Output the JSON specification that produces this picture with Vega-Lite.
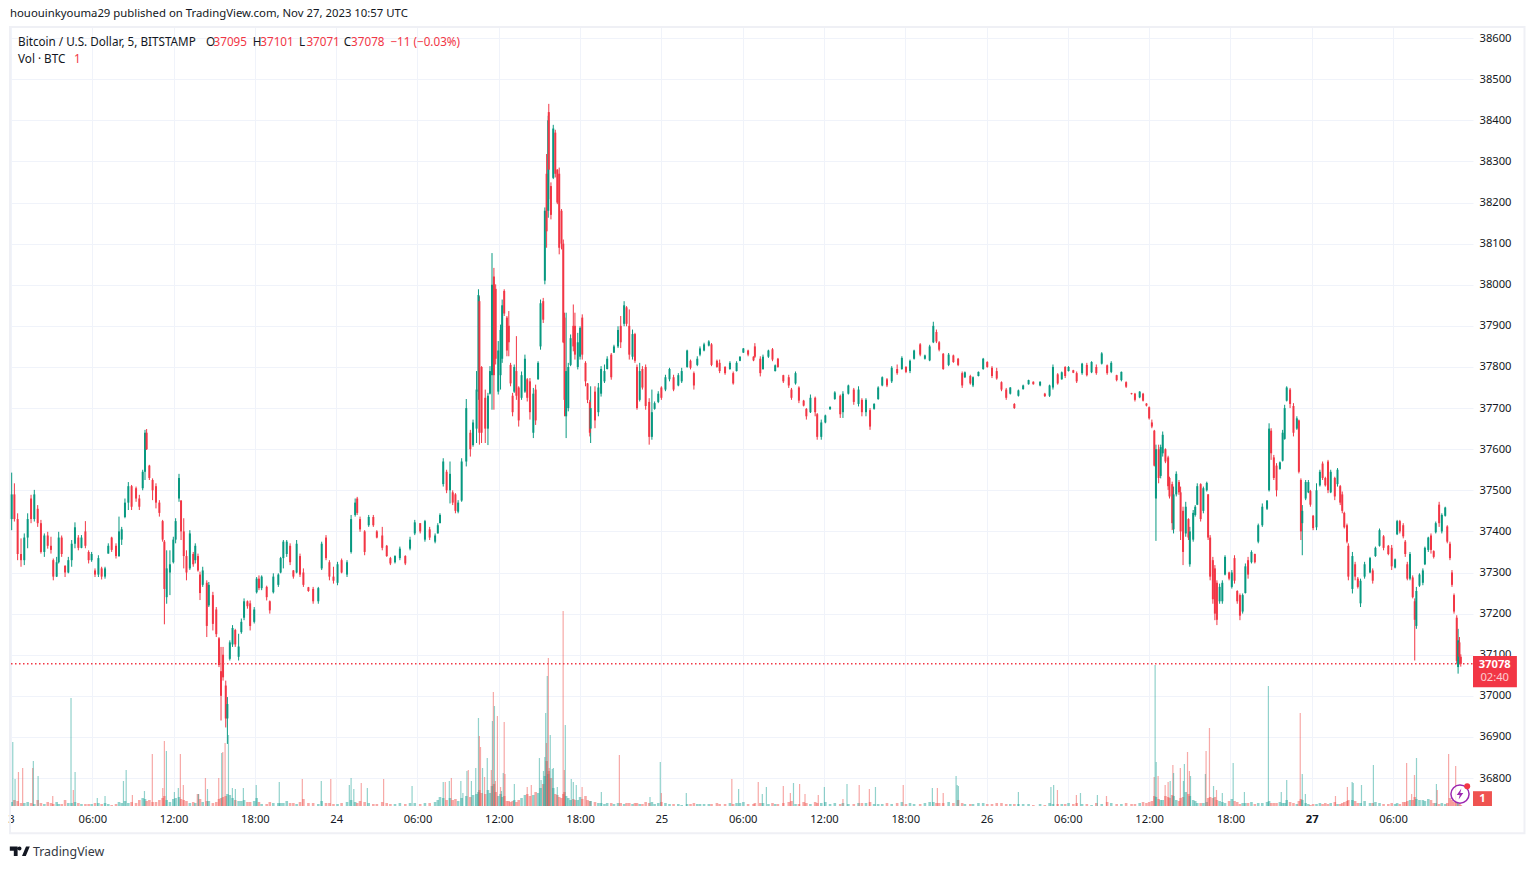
{
"$schema":"https://vega.github.io/schema/vega-lite/v6.json",
"width":1462,"height":779,
"autosize":{"type":"none"},
"padding":{"left":11,"top":27,"right":61,"bottom":63},
"background":"#ffffff",
"config":{"view":{"stroke":null},"font":"Noto Sans","text":{"font":"Noto Sans"}},
"title":{"text":"hououinkyouma29 published on TradingView.com, Nov 27, 2023 10:57 UTC","anchor":"start","frame":"group","offset":7,"dx":-1,"fontSize":11.35,"fontWeight":"normal","color":"#131722","font":"Noto Sans"},
"datasets":{
"candles":[
{"t":0.05,"o":37430,"h":37543,"l":37403,"c":37490,"v":4},
{"t":0.25,"o":37490,"h":37517,"l":37424,"c":37430,"v":6},
{"t":0.49,"o":37430,"h":37444,"l":37330,"c":37345,"v":5},
{"t":0.74,"o":37345,"h":37383,"l":37314,"c":37330,"v":3},
{"t":0.98,"o":37330,"h":37395,"l":37318,"c":37385,"v":3},
{"t":1.23,"o":37385,"h":37444,"l":37359,"c":37430,"v":4},
{"t":1.48,"o":37480,"h":37489,"l":37420,"c":37430,"v":3},
{"t":1.72,"o":37430,"h":37501,"l":37424,"c":37490,"v":2},
{"t":1.97,"o":37455,"h":37464,"l":37411,"c":37420,"v":6},
{"t":2.21,"o":37420,"h":37428,"l":37346,"c":37350,"v":3},
{"t":2.46,"o":37350,"h":37395,"l":37338,"c":37390,"v":2},
{"t":2.71,"o":37390,"h":37399,"l":37358,"c":37365,"v":4},
{"t":2.95,"o":37365,"h":37387,"l":37346,"c":37355,"v":3},
{"t":3.12,"o":37330,"h":37334,"l":37281,"c":37290,"v":2},
{"t":3.37,"o":37290,"h":37338,"l":37289,"c":37325,"v":4},
{"t":3.52,"o":37325,"h":37399,"l":37322,"c":37385,"v":2},
{"t":3.74,"o":37385,"h":37390,"l":37338,"c":37345,"v":2},
{"t":3.99,"o":37316,"h":37318,"l":37289,"c":37300,"v":6},
{"t":4.23,"o":37300,"h":37338,"l":37298,"c":37330,"v":3},
{"t":4.48,"o":37330,"h":37379,"l":37314,"c":37370,"v":3},
{"t":4.72,"o":37370,"h":37422,"l":37359,"c":37410,"v":4},
{"t":4.97,"o":37385,"h":37391,"l":37354,"c":37360,"v":3},
{"t":5.2,"o":37360,"h":37391,"l":37359,"c":37385,"v":2},
{"t":5.49,"o":37400,"h":37425,"l":37359,"c":37365,"v":2},
{"t":5.73,"o":37350,"h":37354,"l":37322,"c":37330,"v":2},
{"t":5.95,"o":37330,"h":37350,"l":37326,"c":37345,"v":2},
{"t":6.2,"o":37305,"h":37310,"l":37289,"c":37295,"v":3},
{"t":6.45,"o":37295,"h":37342,"l":37289,"c":37335,"v":3},
{"t":6.69,"o":37310,"h":37314,"l":37283,"c":37290,"v":2},
{"t":6.94,"o":37290,"h":37314,"l":37285,"c":37310,"v":3},
{"t":7.18,"o":37346,"h":37371,"l":37346,"c":37365,"v":2},
{"t":7.43,"o":37385,"h":37387,"l":37350,"c":37355,"v":1},
{"t":7.75,"o":37365,"h":37371,"l":37334,"c":37340,"v":2},
{"t":7.97,"o":37340,"h":37436,"l":37338,"c":37400,"v":4},
{"t":8.17,"o":37380,"h":37411,"l":37367,"c":37405,"v":3},
{"t":8.41,"o":37435,"h":37480,"l":37432,"c":37470,"v":5},
{"t":8.66,"o":37470,"h":37520,"l":37452,"c":37510,"v":3},
{"t":8.9,"o":37510,"h":37513,"l":37452,"c":37460,"v":4},
{"t":9.23,"o":37505,"h":37509,"l":37472,"c":37480,"v":3},
{"t":9.47,"o":37480,"h":37489,"l":37452,"c":37460,"v":6},
{"t":9.72,"o":37505,"h":37550,"l":37500,"c":37545,"v":8},
{"t":9.89,"o":37545,"h":37647,"l":37525,"c":37640,"v":7},
{"t":10.01,"o":37640,"h":37649,"l":37598,"c":37600,"v":5},
{"t":10.21,"o":37560,"h":37562,"l":37525,"c":37530,"v":6},
{"t":10.45,"o":37525,"h":37529,"l":37476,"c":37500,"v":4},
{"t":10.7,"o":37510,"h":37517,"l":37456,"c":37470,"v":4},
{"t":10.95,"o":37470,"h":37476,"l":37436,"c":37445,"v":6},
{"t":11.19,"o":37425,"h":37428,"l":37375,"c":37380,"v":8},
{"t":11.32,"o":37375,"h":37379,"l":37174,"c":37260,"v":10},
{"t":11.49,"o":37240,"h":37354,"l":37224,"c":37310,"v":6},
{"t":11.73,"o":37300,"h":37354,"l":37245,"c":37320,"v":4},
{"t":11.98,"o":37325,"h":37387,"l":37322,"c":37380,"v":7},
{"t":12.15,"o":37380,"h":37432,"l":37371,"c":37425,"v":8},
{"t":12.4,"o":37480,"h":37540,"l":37472,"c":37530,"v":9},
{"t":12.55,"o":37475,"h":37476,"l":37379,"c":37400,"v":7},
{"t":12.75,"o":37400,"h":37432,"l":37310,"c":37340,"v":6},
{"t":12.95,"o":37340,"h":37354,"l":37281,"c":37300,"v":5},
{"t":13.2,"o":37310,"h":37403,"l":37306,"c":37395,"v":3},
{"t":13.45,"o":37345,"h":37350,"l":37314,"c":37320,"v":4},
{"t":13.6,"o":37330,"h":37371,"l":37322,"c":37365,"v":3},
{"t":13.8,"o":37340,"h":37346,"l":37302,"c":37305,"v":12},
{"t":13.95,"o":37295,"h":37302,"l":37233,"c":37250,"v":7},
{"t":14.15,"o":37270,"h":37314,"l":37265,"c":37305,"v":4},
{"t":14.45,"o":37275,"h":37281,"l":37143,"c":37170,"v":5},
{"t":14.6,"o":37220,"h":37277,"l":37216,"c":37270,"v":5},
{"t":14.9,"o":37245,"h":37253,"l":37159,"c":37175,"v":3},
{"t":15.15,"o":37210,"h":37216,"l":37143,"c":37150,"v":4},
{"t":15.35,"o":37140,"h":37143,"l":37070,"c":37075,"v":7},
{"t":15.5,"o":37060,"h":37119,"l":36940,"c":37000,"v":8},
{"t":15.65,"o":37100,"h":37119,"l":37037,"c":37045,"v":9},
{"t":15.85,"o":37025,"h":37037,"l":36923,"c":36945,"v":10},
{"t":15.97,"o":36945,"h":36997,"l":36883,"c":36980,"v":12},
{"t":16.15,"o":37090,"h":37135,"l":37086,"c":37130,"v":11},
{"t":16.35,"o":37125,"h":37172,"l":37119,"c":37165,"v":8},
{"t":16.55,"o":37160,"h":37163,"l":37119,"c":37125,"v":6},
{"t":16.8,"o":37095,"h":37151,"l":37086,"c":37120,"v":5},
{"t":17.0,"o":37155,"h":37188,"l":37151,"c":37180,"v":5},
{"t":17.2,"o":37190,"h":37237,"l":37184,"c":37230,"v":6},
{"t":17.45,"o":37230,"h":37232,"l":37212,"c":37218,"v":4},
{"t":17.65,"o":37225,"h":37232,"l":37159,"c":37170,"v":4},
{"t":17.95,"o":37180,"h":37216,"l":37176,"c":37210,"v":5},
{"t":18.13,"o":37252,"h":37289,"l":37249,"c":37285,"v":8},
{"t":18.3,"o":37285,"h":37293,"l":37257,"c":37262,"v":4},
{"t":18.5,"o":37262,"h":37293,"l":37257,"c":37290,"v":2},
{"t":18.87,"o":37265,"h":37268,"l":37232,"c":37240,"v":2},
{"t":19.1,"o":37230,"h":37232,"l":37200,"c":37208,"v":4},
{"t":19.36,"o":37252,"h":37298,"l":37249,"c":37290,"v":3},
{"t":19.73,"o":37270,"h":37298,"l":37265,"c":37295,"v":3},
{"t":19.9,"o":37300,"h":37338,"l":37298,"c":37335,"v":3},
{"t":20.1,"o":37335,"h":37379,"l":37310,"c":37375,"v":3},
{"t":20.35,"o":37345,"h":37379,"l":37338,"c":37375,"v":5},
{"t":20.6,"o":37365,"h":37371,"l":37318,"c":37325,"v":3},
{"t":20.84,"o":37305,"h":37306,"l":37285,"c":37290,"v":3},
{"t":21.08,"o":37300,"h":37379,"l":37298,"c":37370,"v":2},
{"t":21.33,"o":37340,"h":37346,"l":37289,"c":37295,"v":4},
{"t":21.58,"o":37300,"h":37310,"l":37265,"c":37270,"v":7},
{"t":21.95,"o":37264,"h":37265,"l":37253,"c":37255,"v":3},
{"t":22.3,"o":37260,"h":37265,"l":37224,"c":37230,"v":3},
{"t":22.68,"o":37230,"h":37265,"l":37224,"c":37262,"v":2},
{"t":22.93,"o":37310,"h":37375,"l":37306,"c":37370,"v":5},
{"t":23.25,"o":37385,"h":37391,"l":37330,"c":37335,"v":3},
{"t":23.5,"o":37325,"h":37330,"l":37281,"c":37290,"v":3},
{"t":23.8,"o":37290,"h":37314,"l":37273,"c":37280,"v":2},
{"t":24.1,"o":37275,"h":37326,"l":37269,"c":37320,"v":2},
{"t":24.4,"o":37330,"h":37334,"l":37298,"c":37300,"v":3},
{"t":24.8,"o":37295,"h":37330,"l":37289,"c":37325,"v":4},
{"t":25.1,"o":37350,"h":37440,"l":37346,"c":37430,"v":6},
{"t":25.4,"o":37440,"h":37480,"l":37436,"c":37470,"v":4},
{"t":25.55,"o":37480,"h":37484,"l":37440,"c":37445,"v":3},
{"t":25.76,"o":37430,"h":37436,"l":37399,"c":37405,"v":5},
{"t":26.1,"o":37400,"h":37403,"l":37342,"c":37350,"v":4},
{"t":26.4,"o":37415,"h":37440,"l":37411,"c":37435,"v":3},
{"t":26.74,"o":37435,"h":37440,"l":37411,"c":37415,"v":2},
{"t":27.0,"o":37400,"h":37403,"l":37383,"c":37385,"v":2},
{"t":27.4,"o":37390,"h":37411,"l":37354,"c":37360,"v":4},
{"t":27.73,"o":37365,"h":37367,"l":37338,"c":37340,"v":3},
{"t":28.0,"o":37335,"h":37338,"l":37318,"c":37322,"v":2},
{"t":28.34,"o":37325,"h":37342,"l":37322,"c":37340,"v":2},
{"t":28.7,"o":37335,"h":37363,"l":37330,"c":37358,"v":3},
{"t":29.1,"o":37340,"h":37342,"l":37318,"c":37322,"v":2},
{"t":29.45,"o":37358,"h":37387,"l":37354,"c":37380,"v":3},
{"t":29.8,"o":37395,"h":37428,"l":37391,"c":37422,"v":3},
{"t":30.2,"o":37420,"h":37420,"l":37395,"c":37400,"v":2},
{"t":30.55,"o":37380,"h":37428,"l":37375,"c":37425,"v":3},
{"t":30.9,"o":37405,"h":37411,"l":37379,"c":37385,"v":3},
{"t":31.3,"o":37375,"h":37395,"l":37371,"c":37390,"v":4},
{"t":31.5,"o":37395,"h":37420,"l":37395,"c":37415,"v":6},
{"t":31.66,"o":37420,"h":37444,"l":37420,"c":37440,"v":9},
{"t":31.9,"o":37515,"h":37578,"l":37509,"c":37570,"v":8},
{"t":32.15,"o":37545,"h":37550,"l":37493,"c":37500,"v":6},
{"t":32.4,"o":37500,"h":37570,"l":37468,"c":37540,"v":8},
{"t":32.6,"o":37495,"h":37500,"l":37464,"c":37470,"v":6},
{"t":32.8,"o":37490,"h":37493,"l":37444,"c":37450,"v":7},
{"t":33.0,"o":37448,"h":37476,"l":37444,"c":37470,"v":5},
{"t":33.26,"o":37475,"h":37578,"l":37472,"c":37570,"v":8},
{"t":33.6,"o":37570,"h":37722,"l":37558,"c":37700,"v":10},
{"t":33.9,"o":37640,"h":37647,"l":37582,"c":37600,"v":9},
{"t":34.1,"o":37610,"h":37672,"l":37606,"c":37665,"v":11},
{"t":34.36,"o":37650,"h":37790,"l":37615,"c":37745,"v":12},
{"t":34.5,"o":37740,"h":37989,"l":37720,"c":37975,"v":14},
{"t":34.57,"o":37960,"h":37972,"l":37611,"c":37640,"v":16},
{"t":34.73,"o":37800,"h":37802,"l":37615,"c":37640,"v":13},
{"t":35.0,"o":37725,"h":37745,"l":37615,"c":37650,"v":12},
{"t":35.2,"o":37650,"h":37737,"l":37610,"c":37730,"v":16},
{"t":35.35,"o":37735,"h":37802,"l":37733,"c":37790,"v":13},
{"t":35.5,"o":37780,"h":38077,"l":37696,"c":38000,"v":20},
{"t":35.64,"o":38020,"h":38041,"l":37696,"c":37780,"v":22},
{"t":35.77,"o":37990,"h":38001,"l":37806,"c":37820,"v":14},
{"t":35.96,"o":37740,"h":37863,"l":37733,"c":37840,"v":10},
{"t":36.13,"o":37780,"h":37903,"l":37745,"c":37890,"v":12},
{"t":36.25,"o":37820,"h":37964,"l":37810,"c":37950,"v":9},
{"t":36.4,"o":37985,"h":37989,"l":37924,"c":37930,"v":10},
{"t":36.6,"o":37920,"h":37924,"l":37826,"c":37840,"v":5},
{"t":36.74,"o":37900,"h":37936,"l":37826,"c":37860,"v":5},
{"t":36.87,"o":37805,"h":37810,"l":37753,"c":37760,"v":4},
{"t":37.02,"o":37730,"h":37737,"l":37680,"c":37690,"v":5},
{"t":37.14,"o":37740,"h":37806,"l":37737,"c":37800,"v":6},
{"t":37.3,"o":37790,"h":37875,"l":37720,"c":37730,"v":4},
{"t":37.47,"o":37750,"h":37753,"l":37655,"c":37670,"v":6},
{"t":37.68,"o":37725,"h":37789,"l":37720,"c":37780,"v":8},
{"t":37.93,"o":37740,"h":37830,"l":37737,"c":37820,"v":11},
{"t":38.1,"o":37770,"h":37773,"l":37716,"c":37725,"v":12},
{"t":38.3,"o":37765,"h":37773,"l":37672,"c":37690,"v":10},
{"t":38.55,"o":37640,"h":37749,"l":37627,"c":37735,"v":11},
{"t":38.72,"o":37745,"h":37757,"l":37659,"c":37670,"v":14},
{"t":38.9,"o":37770,"h":37814,"l":37769,"c":37810,"v":13},
{"t":39.08,"o":37850,"h":37964,"l":37842,"c":37955,"v":18},
{"t":39.28,"o":37960,"h":37968,"l":37907,"c":37915,"v":22},
{"t":39.4,"o":38010,"h":38188,"l":38001,"c":38180,"v":30},
{"t":39.53,"o":38270,"h":38318,"l":38090,"c":38130,"v":45},
{"t":39.65,"o":38180,"h":38411,"l":38163,"c":38400,"v":32},
{"t":39.69,"o":38420,"h":38440,"l":38208,"c":38280,"v":35},
{"t":39.85,"o":38240,"h":38249,"l":38159,"c":38170,"v":28},
{"t":40.02,"o":38260,"h":38389,"l":38257,"c":38380,"v":18},
{"t":40.17,"o":38370,"h":38377,"l":38261,"c":38270,"v":12},
{"t":40.32,"o":38280,"h":38281,"l":38196,"c":38200,"v":11},
{"t":40.46,"o":38270,"h":38285,"l":38074,"c":38090,"v":9},
{"t":40.63,"o":38180,"h":38184,"l":38086,"c":38100,"v":8},
{"t":40.76,"o":38100,"h":38110,"l":37858,"c":37860,"v":12},
{"t":40.85,"o":37920,"h":37932,"l":37680,"c":37720,"v":14},
{"t":40.97,"o":37680,"h":37932,"l":37627,"c":37790,"v":10},
{"t":41.13,"o":37700,"h":37810,"l":37692,"c":37800,"v":8},
{"t":41.3,"o":37805,"h":37879,"l":37802,"c":37870,"v":6},
{"t":41.5,"o":37900,"h":37952,"l":37838,"c":37850,"v":7},
{"t":41.62,"o":37900,"h":37932,"l":37818,"c":37830,"v":6},
{"t":41.83,"o":37800,"h":37883,"l":37794,"c":37860,"v":6},
{"t":42.0,"o":37825,"h":37899,"l":37818,"c":37895,"v":9},
{"t":42.16,"o":37920,"h":37928,"l":37818,"c":37830,"v":7},
{"t":42.4,"o":37810,"h":37814,"l":37753,"c":37765,"v":10},
{"t":42.55,"o":37760,"h":37761,"l":37712,"c":37720,"v":6},
{"t":42.72,"o":37715,"h":37720,"l":37631,"c":37640,"v":5},
{"t":42.78,"o":37650,"h":37753,"l":37615,"c":37700,"v":5},
{"t":43.1,"o":37740,"h":37753,"l":37651,"c":37670,"v":4},
{"t":43.35,"o":37690,"h":37761,"l":37680,"c":37750,"v":3},
{"t":43.55,"o":37735,"h":37802,"l":37728,"c":37795,"v":3},
{"t":43.8,"o":37765,"h":37806,"l":37761,"c":37790,"v":2},
{"t":44.0,"o":37795,"h":37826,"l":37794,"c":37820,"v":3},
{"t":44.3,"o":37830,"h":37834,"l":37769,"c":37775,"v":3},
{"t":44.5,"o":37835,"h":37854,"l":37834,"c":37850,"v":2},
{"t":44.8,"o":37850,"h":37899,"l":37846,"c":37890,"v":3},
{"t":45.0,"o":37900,"h":37924,"l":37846,"c":37860,"v":3},
{"t":45.25,"o":37905,"h":37960,"l":37899,"c":37950,"v":2},
{"t":45.43,"o":37945,"h":37948,"l":37899,"c":37905,"v":3},
{"t":45.63,"o":37900,"h":37940,"l":37818,"c":37830,"v":3},
{"t":45.87,"o":37825,"h":37891,"l":37818,"c":37880,"v":2},
{"t":46.05,"o":37880,"h":37883,"l":37810,"c":37815,"v":3},
{"t":46.2,"o":37800,"h":37806,"l":37696,"c":37700,"v":3},
{"t":46.4,"o":37720,"h":37810,"l":37716,"c":37790,"v":2},
{"t":46.6,"o":37795,"h":37802,"l":37745,"c":37750,"v":2},
{"t":46.84,"o":37800,"h":37806,"l":37696,"c":37705,"v":4},
{"t":47.1,"o":37715,"h":37724,"l":37611,"c":37630,"v":3},
{"t":47.3,"o":37630,"h":37745,"l":37623,"c":37690,"v":4},
{"t":47.5,"o":37698,"h":37716,"l":37696,"c":37712,"v":2},
{"t":47.77,"o":37715,"h":37741,"l":37712,"c":37735,"v":3},
{"t":48.0,"o":37750,"h":37753,"l":37720,"c":37725,"v":4},
{"t":48.3,"o":37745,"h":37781,"l":37741,"c":37775,"v":3},
{"t":48.6,"o":37770,"h":37798,"l":37765,"c":37795,"v":2},
{"t":48.9,"o":37775,"h":37781,"l":37741,"c":37745,"v":2},
{"t":49.25,"o":37755,"h":37785,"l":37753,"c":37780,"v":2},
{"t":49.5,"o":37765,"h":37798,"l":37761,"c":37790,"v":1},
{"t":49.9,"o":37800,"h":37842,"l":37798,"c":37840,"v":2},
{"t":50.15,"o":37815,"h":37818,"l":37794,"c":37798,"v":2},
{"t":50.4,"o":37785,"h":37789,"l":37745,"c":37755,"v":3},
{"t":50.65,"o":37805,"h":37826,"l":37802,"c":37820,"v":2},
{"t":50.85,"o":37830,"h":37850,"l":37826,"c":37845,"v":2},
{"t":51.15,"o":37840,"h":37859,"l":37838,"c":37855,"v":2},
{"t":51.5,"o":37852,"h":37865,"l":37850,"c":37862,"v":2},
{"t":51.7,"o":37855,"h":37858,"l":37802,"c":37805,"v":2},
{"t":52.1,"o":37815,"h":37818,"l":37798,"c":37800,"v":3},
{"t":52.3,"o":37810,"h":37818,"l":37785,"c":37790,"v":2},
{"t":52.7,"o":37800,"h":37802,"l":37781,"c":37785,"v":2},
{"t":53.06,"o":37795,"h":37814,"l":37793,"c":37810,"v":3},
{"t":53.3,"o":37785,"h":37789,"l":37757,"c":37760,"v":2},
{"t":53.55,"o":37790,"h":37814,"l":37789,"c":37810,"v":3},
{"t":53.8,"o":37815,"h":37826,"l":37814,"c":37825,"v":3},
{"t":54.05,"o":37835,"h":37846,"l":37834,"c":37845,"v":4},
{"t":54.4,"o":37840,"h":37842,"l":37826,"c":37830,"v":2},
{"t":54.8,"o":37825,"h":37826,"l":37814,"c":37816,"v":2},
{"t":54.9,"o":37850,"h":37858,"l":37822,"c":37825,"v":3},
{"t":55.3,"o":37820,"h":37826,"l":37777,"c":37785,"v":3},
{"t":55.5,"o":37795,"h":37830,"l":37793,"c":37825,"v":3},
{"t":55.9,"o":37825,"h":37842,"l":37822,"c":37840,"v":2},
{"t":56.2,"o":37843,"h":37846,"l":37814,"c":37818,"v":3},
{"t":56.4,"o":37790,"h":37806,"l":37789,"c":37804,"v":2},
{"t":56.6,"o":37820,"h":37822,"l":37798,"c":37800,"v":2},
{"t":57.0,"o":37780,"h":37781,"l":37761,"c":37765,"v":3},
{"t":57.4,"o":37775,"h":37781,"l":37749,"c":37755,"v":4},
{"t":57.6,"o":37745,"h":37749,"l":37720,"c":37725,"v":5},
{"t":57.9,"o":37760,"h":37789,"l":37757,"c":37785,"v":2},
{"t":58.15,"o":37750,"h":37753,"l":37712,"c":37718,"v":2},
{"t":58.5,"o":37718,"h":37720,"l":37704,"c":37706,"v":4},
{"t":58.7,"o":37698,"h":37700,"l":37672,"c":37680,"v":3},
{"t":59.0,"o":37690,"h":37733,"l":37688,"c":37725,"v":2},
{"t":59.35,"o":37725,"h":37728,"l":37680,"c":37690,"v":4},
{"t":59.5,"o":37685,"h":37688,"l":37623,"c":37630,"v":3},
{"t":59.8,"o":37630,"h":37672,"l":37623,"c":37665,"v":3},
{"t":60.1,"o":37665,"h":37684,"l":37663,"c":37682,"v":4},
{"t":60.45,"o":37697,"h":37704,"l":37696,"c":37703,"v":2},
{"t":60.8,"o":37722,"h":37741,"l":37720,"c":37738,"v":3},
{"t":61.2,"o":37730,"h":37733,"l":37676,"c":37685,"v":2},
{"t":61.4,"o":37690,"h":37741,"l":37676,"c":37735,"v":3},
{"t":61.8,"o":37735,"h":37757,"l":37733,"c":37755,"v":2},
{"t":62.2,"o":37745,"h":37749,"l":37708,"c":37715,"v":2},
{"t":62.55,"o":37710,"h":37753,"l":37704,"c":37745,"v":3},
{"t":62.8,"o":37720,"h":37724,"l":37680,"c":37690,"v":3},
{"t":63.1,"o":37690,"h":37724,"l":37680,"c":37720,"v":3},
{"t":63.4,"o":37695,"h":37700,"l":37647,"c":37655,"v":4},
{"t":63.7,"o":37698,"h":37712,"l":37696,"c":37710,"v":2},
{"t":64.0,"o":37722,"h":37753,"l":37720,"c":37750,"v":2},
{"t":64.3,"o":37755,"h":37777,"l":37753,"c":37775,"v":2},
{"t":64.65,"o":37770,"h":37773,"l":37751,"c":37755,"v":3},
{"t":65.0,"o":37765,"h":37802,"l":37761,"c":37798,"v":2},
{"t":65.4,"o":37795,"h":37806,"l":37781,"c":37785,"v":3},
{"t":65.75,"o":37795,"h":37826,"l":37793,"c":37822,"v":4},
{"t":66.05,"o":37800,"h":37802,"l":37785,"c":37788,"v":2},
{"t":66.35,"o":37790,"h":37818,"l":37785,"c":37815,"v":3},
{"t":66.65,"o":37820,"h":37842,"l":37818,"c":37840,"v":2},
{"t":67.1,"o":37855,"h":37858,"l":37826,"c":37830,"v":2},
{"t":67.45,"o":37820,"h":37830,"l":37818,"c":37828,"v":3},
{"t":67.8,"o":37816,"h":37854,"l":37814,"c":37850,"v":4},
{"t":68.07,"o":37860,"h":37910,"l":37858,"c":37900,"v":4},
{"t":68.3,"o":37885,"h":37891,"l":37858,"c":37862,"v":3},
{"t":68.5,"o":37860,"h":37863,"l":37838,"c":37842,"v":3},
{"t":68.8,"o":37832,"h":37834,"l":37793,"c":37795,"v":3},
{"t":69.2,"o":37805,"h":37834,"l":37802,"c":37830,"v":4},
{"t":69.55,"o":37828,"h":37830,"l":37810,"c":37812,"v":3},
{"t":69.9,"o":37820,"h":37822,"l":37802,"c":37805,"v":6},
{"t":70.2,"o":37785,"h":37789,"l":37749,"c":37755,"v":3},
{"t":70.4,"o":37775,"h":37789,"l":37773,"c":37787,"v":2},
{"t":70.8,"o":37778,"h":37781,"l":37757,"c":37760,"v":2},
{"t":71.0,"o":37755,"h":37777,"l":37751,"c":37775,"v":2},
{"t":71.4,"o":37778,"h":37789,"l":37777,"c":37788,"v":3},
{"t":71.75,"o":37795,"h":37822,"l":37793,"c":37820,"v":3},
{"t":72.05,"o":37812,"h":37814,"l":37798,"c":37800,"v":2},
{"t":72.4,"o":37798,"h":37802,"l":37773,"c":37778,"v":2},
{"t":72.75,"o":37790,"h":37798,"l":37769,"c":37772,"v":3},
{"t":73.1,"o":37763,"h":37765,"l":37741,"c":37745,"v":3},
{"t":73.45,"o":37745,"h":37749,"l":37720,"c":37725,"v":2},
{"t":73.75,"o":37735,"h":37751,"l":37733,"c":37750,"v":2},
{"t":74.05,"o":37710,"h":37712,"l":37698,"c":37700,"v":2},
{"t":74.35,"o":37730,"h":37745,"l":37728,"c":37743,"v":2},
{"t":74.7,"o":37746,"h":37757,"l":37745,"c":37755,"v":2},
{"t":75.1,"o":37758,"h":37769,"l":37757,"c":37768,"v":2},
{"t":75.45,"o":37764,"h":37765,"l":37757,"c":37758,"v":1},
{"t":75.95,"o":37755,"h":37765,"l":37753,"c":37764,"v":2},
{"t":76.3,"o":37735,"h":37737,"l":37727,"c":37729,"v":1},
{"t":76.65,"o":37730,"h":37757,"l":37727,"c":37755,"v":3},
{"t":76.9,"o":37750,"h":37806,"l":37745,"c":37800,"v":2},
{"t":77.25,"o":37782,"h":37785,"l":37757,"c":37760,"v":2},
{"t":77.55,"o":37770,"h":37789,"l":37769,"c":37787,"v":2},
{"t":77.8,"o":37800,"h":37802,"l":37773,"c":37778,"v":2},
{"t":78.05,"o":37790,"h":37802,"l":37789,"c":37800,"v":3},
{"t":78.4,"o":37792,"h":37793,"l":37785,"c":37786,"v":2},
{"t":78.65,"o":37785,"h":37789,"l":37761,"c":37765,"v":3},
{"t":79.05,"o":37785,"h":37810,"l":37781,"c":37808,"v":2},
{"t":79.4,"o":37805,"h":37810,"l":37777,"c":37780,"v":2},
{"t":79.75,"o":37787,"h":37814,"l":37785,"c":37812,"v":1},
{"t":80.1,"o":37800,"h":37806,"l":37781,"c":37785,"v":3},
{"t":80.5,"o":37808,"h":37836,"l":37806,"c":37833,"v":2},
{"t":80.9,"o":37804,"h":37806,"l":37781,"c":37785,"v":4},
{"t":81.2,"o":37788,"h":37814,"l":37785,"c":37810,"v":3},
{"t":81.6,"o":37780,"h":37781,"l":37765,"c":37768,"v":2},
{"t":81.95,"o":37768,"h":37789,"l":37765,"c":37788,"v":2},
{"t":82.3,"o":37763,"h":37765,"l":37749,"c":37752,"v":3},
{"t":82.7,"o":37736,"h":37737,"l":37733,"c":37734,"v":2},
{"t":82.95,"o":37735,"h":37737,"l":37716,"c":37720,"v":2},
{"t":83.3,"o":37726,"h":37741,"l":37724,"c":37740,"v":3},
{"t":83.55,"o":37735,"h":37737,"l":37716,"c":37718,"v":4},
{"t":83.8,"o":37711,"h":37712,"l":37704,"c":37706,"v":3},
{"t":84.0,"o":37702,"h":37704,"l":37672,"c":37675,"v":4},
{"t":84.2,"o":37665,"h":37672,"l":37651,"c":37655,"v":5},
{"t":84.38,"o":37645,"h":37647,"l":37558,"c":37560,"v":10},
{"t":84.5,"o":37480,"h":37611,"l":37377,"c":37600,"v":9},
{"t":84.7,"o":37600,"h":37611,"l":37517,"c":37530,"v":7},
{"t":84.85,"o":37535,"h":37611,"l":37529,"c":37605,"v":6},
{"t":85.0,"o":37590,"h":37643,"l":37582,"c":37635,"v":6},
{"t":85.2,"o":37600,"h":37602,"l":37566,"c":37570,"v":10},
{"t":85.4,"o":37580,"h":37584,"l":37501,"c":37510,"v":9},
{"t":85.5,"o":37530,"h":37533,"l":37480,"c":37485,"v":8},
{"t":85.7,"o":37515,"h":37521,"l":37403,"c":37420,"v":11},
{"t":85.8,"o":37405,"h":37509,"l":37395,"c":37490,"v":10},
{"t":86.0,"o":37490,"h":37546,"l":37485,"c":37540,"v":6},
{"t":86.2,"o":37520,"h":37525,"l":37489,"c":37495,"v":5},
{"t":86.32,"o":37495,"h":37509,"l":37379,"c":37400,"v":8},
{"t":86.5,"o":37450,"h":37460,"l":37318,"c":37350,"v":9},
{"t":86.7,"o":37395,"h":37472,"l":37387,"c":37460,"v":14},
{"t":86.9,"o":37430,"h":37432,"l":37379,"c":37385,"v":12},
{"t":87.0,"o":37320,"h":37411,"l":37314,"c":37400,"v":10},
{"t":87.25,"o":37380,"h":37452,"l":37375,"c":37445,"v":6},
{"t":87.4,"o":37440,"h":37464,"l":37436,"c":37460,"v":5},
{"t":87.55,"o":37465,"h":37517,"l":37464,"c":37510,"v":3},
{"t":87.8,"o":37515,"h":37517,"l":37424,"c":37430,"v":3},
{"t":88.0,"o":37450,"h":37509,"l":37444,"c":37505,"v":3},
{"t":88.25,"o":37500,"h":37521,"l":37497,"c":37518,"v":4},
{"t":88.35,"o":37490,"h":37491,"l":37379,"c":37385,"v":8},
{"t":88.5,"o":37385,"h":37391,"l":37281,"c":37290,"v":9},
{"t":88.7,"o":37330,"h":37338,"l":37224,"c":37235,"v":8},
{"t":88.85,"o":37310,"h":37318,"l":37184,"c":37200,"v":9},
{"t":89.0,"o":37275,"h":37281,"l":37172,"c":37185,"v":6},
{"t":89.2,"o":37230,"h":37273,"l":37224,"c":37265,"v":5},
{"t":89.4,"o":37230,"h":37281,"l":37224,"c":37275,"v":4},
{"t":89.6,"o":37295,"h":37342,"l":37293,"c":37338,"v":3},
{"t":89.9,"o":37300,"h":37302,"l":37281,"c":37285,"v":5},
{"t":90.1,"o":37265,"h":37306,"l":37261,"c":37300,"v":7},
{"t":90.3,"o":37335,"h":37342,"l":37273,"c":37280,"v":5},
{"t":90.5,"o":37255,"h":37257,"l":37224,"c":37230,"v":4},
{"t":90.7,"o":37245,"h":37249,"l":37184,"c":37195,"v":2},
{"t":90.9,"o":37205,"h":37249,"l":37200,"c":37245,"v":3},
{"t":91.1,"o":37250,"h":37322,"l":37249,"c":37315,"v":3},
{"t":91.3,"o":37330,"h":37338,"l":37285,"c":37295,"v":3},
{"t":91.55,"o":37325,"h":37354,"l":37322,"c":37350,"v":4},
{"t":91.8,"o":37345,"h":37346,"l":37322,"c":37325,"v":2},
{"t":92.05,"o":37375,"h":37419,"l":37371,"c":37415,"v":3},
{"t":92.35,"o":37415,"h":37468,"l":37411,"c":37460,"v":3},
{"t":92.7,"o":37455,"h":37476,"l":37452,"c":37475,"v":4},
{"t":92.85,"o":37500,"h":37663,"l":37497,"c":37650,"v":5},
{"t":93.0,"o":37645,"h":37651,"l":37574,"c":37590,"v":3},
{"t":93.2,"o":37580,"h":37586,"l":37525,"c":37530,"v":3},
{"t":93.4,"o":37560,"h":37566,"l":37485,"c":37500,"v":3},
{"t":93.65,"o":37552,"h":37570,"l":37550,"c":37568,"v":4},
{"t":93.85,"o":37572,"h":37647,"l":37570,"c":37640,"v":3},
{"t":94.0,"o":37625,"h":37708,"l":37623,"c":37700,"v":3},
{"t":94.15,"o":37718,"h":37753,"l":37716,"c":37750,"v":6},
{"t":94.4,"o":37745,"h":37749,"l":37700,"c":37710,"v":4},
{"t":94.65,"o":37705,"h":37712,"l":37631,"c":37640,"v":3},
{"t":94.9,"o":37650,"h":37680,"l":37647,"c":37675,"v":2},
{"t":95.05,"o":37670,"h":37672,"l":37541,"c":37545,"v":5},
{"t":95.2,"o":37525,"h":37529,"l":37379,"c":37400,"v":7},
{"t":95.3,"o":37420,"h":37464,"l":37342,"c":37450,"v":6},
{"t":95.55,"o":37480,"h":37525,"l":37476,"c":37520,"v":3},
{"t":95.75,"o":37495,"h":37525,"l":37493,"c":37520,"v":2},
{"t":95.9,"o":37498,"h":37501,"l":37460,"c":37465,"v":1},
{"t":96.1,"o":37438,"h":37440,"l":37403,"c":37408,"v":2},
{"t":96.35,"o":37410,"h":37517,"l":37403,"c":37500,"v":2},
{"t":96.6,"o":37512,"h":37550,"l":37509,"c":37545,"v":3},
{"t":96.8,"o":37565,"h":37570,"l":37525,"c":37530,"v":2},
{"t":97.0,"o":37530,"h":37533,"l":37509,"c":37512,"v":3},
{"t":97.2,"o":37570,"h":37574,"l":37493,"c":37500,"v":2},
{"t":97.4,"o":37495,"h":37550,"l":37493,"c":37545,"v":3},
{"t":97.7,"o":37530,"h":37533,"l":37476,"c":37485,"v":4},
{"t":97.9,"o":37515,"h":37554,"l":37509,"c":37550,"v":2},
{"t":98.1,"o":37510,"h":37513,"l":37464,"c":37470,"v":2},
{"t":98.25,"o":37490,"h":37497,"l":37444,"c":37450,"v":3},
{"t":98.4,"o":37445,"h":37448,"l":37407,"c":37410,"v":4},
{"t":98.6,"o":37415,"h":37419,"l":37371,"c":37375,"v":5},
{"t":98.7,"o":37365,"h":37371,"l":37281,"c":37290,"v":6},
{"t":99.0,"o":37260,"h":37350,"l":37249,"c":37340,"v":6},
{"t":99.2,"o":37320,"h":37326,"l":37281,"c":37290,"v":5},
{"t":99.4,"o":37285,"h":37289,"l":37261,"c":37265,"v":3},
{"t":99.6,"o":37225,"h":37285,"l":37216,"c":37280,"v":3},
{"t":99.9,"o":37290,"h":37326,"l":37285,"c":37320,"v":5},
{"t":100.3,"o":37300,"h":37338,"l":37298,"c":37335,"v":3},
{"t":100.5,"o":37305,"h":37310,"l":37273,"c":37280,"v":3},
{"t":100.7,"o":37340,"h":37363,"l":37338,"c":37360,"v":4},
{"t":101.0,"o":37365,"h":37407,"l":37363,"c":37403,"v":3},
{"t":101.3,"o":37388,"h":37391,"l":37354,"c":37360,"v":2},
{"t":101.65,"o":37365,"h":37367,"l":37342,"c":37345,"v":2},
{"t":101.9,"o":37360,"h":37367,"l":37306,"c":37315,"v":3},
{"t":102.15,"o":37312,"h":37334,"l":37310,"c":37332,"v":2},
{"t":102.3,"o":37393,"h":37428,"l":37391,"c":37425,"v":3},
{"t":102.5,"o":37425,"h":37428,"l":37395,"c":37400,"v":2},
{"t":102.75,"o":37415,"h":37420,"l":37383,"c":37388,"v":4},
{"t":102.9,"o":37375,"h":37379,"l":37338,"c":37345,"v":4},
{"t":103.05,"o":37320,"h":37326,"l":37281,"c":37285,"v":5},
{"t":103.25,"o":37285,"h":37350,"l":37281,"c":37345,"v":6},
{"t":103.45,"o":37288,"h":37293,"l":37237,"c":37240,"v":6},
{"t":103.6,"o":37230,"h":37237,"l":37086,"c":37185,"v":9},
{"t":103.72,"o":37170,"h":37265,"l":37163,"c":37255,"v":7},
{"t":103.95,"o":37268,"h":37298,"l":37265,"c":37295,"v":6},
{"t":104.2,"o":37275,"h":37310,"l":37269,"c":37305,"v":6},
{"t":104.35,"o":37320,"h":37363,"l":37318,"c":37360,"v":5},
{"t":104.6,"o":37355,"h":37387,"l":37350,"c":37385,"v":7},
{"t":104.8,"o":37390,"h":37395,"l":37346,"c":37355,"v":6},
{"t":105.0,"o":37352,"h":37354,"l":37334,"c":37338,"v":3},
{"t":105.15,"o":37398,"h":37424,"l":37395,"c":37420,"v":3},
{"t":105.4,"o":37465,"h":37472,"l":37411,"c":37420,"v":2},
{"t":105.6,"o":37400,"h":37444,"l":37395,"c":37440,"v":3},
{"t":105.85,"o":37438,"h":37460,"l":37436,"c":37458,"v":2},
{"t":106.0,"o":37412,"h":37415,"l":37371,"c":37375,"v":3},
{"t":106.2,"o":37370,"h":37375,"l":37330,"c":37335,"v":8},
{"t":106.35,"o":37300,"h":37306,"l":37265,"c":37270,"v":6},
{"t":106.5,"o":37245,"h":37249,"l":37200,"c":37205,"v":4},
{"t":106.7,"o":37190,"h":37196,"l":37078,"c":37085,"v":5},
{"t":106.8,"o":37070,"h":37163,"l":37054,"c":37135,"v":3},
{"t":106.9,"o":37130,"h":37143,"l":37078,"c":37095,"v":2},
{"t":107.0,"o":37095,"h":37101,"l":37071,"c":37078,"v":1}
],
"volumeSpikes":[
{"t":0.13,"v":64,"d":"up"},{"t":0.3,"v":27,"d":"up"},{"t":0.55,"v":34,"d":"down"},{"t":0.86,"v":38,"d":"down"},{"t":1.6,"v":38,"d":"down"},{"t":1.65,"v":45,"d":"up"},{"t":2.0,"v":30,"d":"up"},{"t":3.08,"v":10,"d":"down"},{"t":4.43,"v":108,"d":"up"},{"t":4.6,"v":16,"d":"down"},{"t":4.73,"v":34,"d":"up"},{"t":6.37,"v":8,"d":"up"},{"t":6.94,"v":10,"d":"up"},{"t":8.3,"v":25,"d":"up"},{"t":8.5,"v":36,"d":"up"},{"t":8.96,"v":11,"d":"down"},{"t":9.85,"v":15,"d":"up"},{"t":10.43,"v":52,"d":"down"},{"t":11.2,"v":18,"d":"down"},{"t":11.32,"v":65,"d":"down"},{"t":11.47,"v":55,"d":"up"},{"t":12.06,"v":14,"d":"up"},{"t":12.35,"v":18,"d":"up"},{"t":12.5,"v":52,"d":"down"},{"t":12.72,"v":21,"d":"down"},{"t":13.83,"v":12,"d":"up"},{"t":14.35,"v":28,"d":"down"},{"t":14.5,"v":17,"d":"up"},{"t":15.33,"v":28,"d":"down"},{"t":15.55,"v":53,"d":"up"},{"t":15.63,"v":54,"d":"down"},{"t":15.8,"v":63,"d":"down"},{"t":16.05,"v":71,"d":"up"},{"t":16.34,"v":18,"d":"up"},{"t":16.56,"v":17,"d":"up"},{"t":17.15,"v":18,"d":"up"},{"t":18.1,"v":21,"d":"up"},{"t":19.8,"v":24,"d":"up"},{"t":21.5,"v":27,"d":"down"},{"t":22.9,"v":25,"d":"up"},{"t":23.6,"v":27,"d":"down"},{"t":24.97,"v":21,"d":"up"},{"t":25.1,"v":28,"d":"up"},{"t":25.3,"v":17,"d":"up"},{"t":25.85,"v":23,"d":"down"},{"t":26.3,"v":18,"d":"up"},{"t":27.5,"v":27,"d":"down"},{"t":29.6,"v":20,"d":"up"},{"t":31.9,"v":24,"d":"up"},{"t":32.05,"v":24,"d":"down"},{"t":32.35,"v":25,"d":"up"},{"t":32.5,"v":28,"d":"down"},{"t":33.2,"v":25,"d":"up"},{"t":33.35,"v":13,"d":"up"},{"t":33.65,"v":35,"d":"up"},{"t":33.75,"v":36,"d":"down"},{"t":33.98,"v":25,"d":"up"},{"t":34.3,"v":38,"d":"up"},{"t":34.5,"v":88,"d":"up"},{"t":34.57,"v":70,"d":"down"},{"t":34.65,"v":59,"d":"down"},{"t":34.8,"v":38,"d":"up"},{"t":34.95,"v":29,"d":"down"},{"t":35.15,"v":48,"d":"up"},{"t":35.45,"v":36,"d":"down"},{"t":35.53,"v":85,"d":"up"},{"t":35.6,"v":114,"d":"down"},{"t":35.68,"v":100,"d":"up"},{"t":35.75,"v":25,"d":"down"},{"t":35.9,"v":90,"d":"down"},{"t":36.13,"v":19,"d":"down"},{"t":36.2,"v":15,"d":"up"},{"t":36.33,"v":33,"d":"up"},{"t":36.4,"v":84,"d":"down"},{"t":36.46,"v":32,"d":"down"},{"t":37.15,"v":22,"d":"up"},{"t":38.1,"v":19,"d":"down"},{"t":38.4,"v":21,"d":"down"},{"t":39.0,"v":48,"d":"up"},{"t":39.12,"v":26,"d":"up"},{"t":39.3,"v":35,"d":"up"},{"t":39.4,"v":49,"d":"up"},{"t":39.46,"v":93,"d":"up"},{"t":39.52,"v":63,"d":"down"},{"t":39.58,"v":130,"d":"up"},{"t":39.66,"v":148,"d":"down"},{"t":39.72,"v":38,"d":"down"},{"t":39.8,"v":71,"d":"up"},{"t":39.95,"v":37,"d":"up"},{"t":40.03,"v":38,"d":"up"},{"t":40.32,"v":19,"d":"up"},{"t":40.75,"v":195,"d":"down"},{"t":40.84,"v":36,"d":"down"},{"t":40.91,"v":81,"d":"up"},{"t":41.35,"v":27,"d":"up"},{"t":41.5,"v":24,"d":"up"},{"t":41.72,"v":21,"d":"up"},{"t":42.15,"v":19,"d":"down"},{"t":43.57,"v":14,"d":"up"},{"t":44.9,"v":51,"d":"down"},{"t":47.16,"v":9,"d":"up"},{"t":47.92,"v":44,"d":"up"},{"t":48.0,"v":13,"d":"down"},{"t":49.84,"v":13,"d":"up"},{"t":53.2,"v":27,"d":"down"},{"t":53.7,"v":17,"d":"up"},{"t":55.15,"v":24,"d":"down"},{"t":55.45,"v":12,"d":"up"},{"t":55.75,"v":19,"d":"up"},{"t":57.0,"v":20,"d":"down"},{"t":57.52,"v":13,"d":"down"},{"t":57.75,"v":23,"d":"up"},{"t":58.2,"v":22,"d":"down"},{"t":58.6,"v":12,"d":"down"},{"t":59.58,"v":11,"d":"down"},{"t":60.03,"v":19,"d":"up"},{"t":61.4,"v":7,"d":"down"},{"t":61.7,"v":22,"d":"up"},{"t":62.6,"v":21,"d":"down"},{"t":63.35,"v":17,"d":"down"},{"t":63.8,"v":19,"d":"up"},{"t":65.85,"v":21,"d":"down"},{"t":68.0,"v":18,"d":"up"},{"t":68.37,"v":18,"d":"down"},{"t":68.8,"v":13,"d":"down"},{"t":69.75,"v":30,"d":"up"},{"t":69.83,"v":21,"d":"up"},{"t":69.92,"v":20,"d":"up"},
{"t":74.35,"v":14,"d":"up"},{"t":76.75,"v":19,"d":"up"},{"t":76.95,"v":21,"d":"up"},{"t":77.23,"v":16,"d":"down"},{"t":78.63,"v":11,"d":"down"},{"t":78.93,"v":13,"d":"up"},{"t":80.18,"v":11,"d":"up"},{"t":80.85,"v":10,"d":"down"},{"t":84.37,"v":29,"d":"down"},{"t":84.44,"v":141,"d":"up"},{"t":84.52,"v":44,"d":"up"},{"t":84.66,"v":30,"d":"down"},{"t":85.18,"v":21,"d":"down"},{"t":85.4,"v":24,"d":"down"},{"t":85.55,"v":25,"d":"up"},{"t":85.75,"v":41,"d":"down"},{"t":85.8,"v":33,"d":"up"},{"t":86.3,"v":38,"d":"down"},{"t":86.53,"v":25,"d":"up"},{"t":86.6,"v":42,"d":"up"},{"t":86.83,"v":54,"d":"down"},{"t":86.97,"v":35,"d":"down"},{"t":87.05,"v":30,"d":"up"},{"t":88.15,"v":32,"d":"up"},{"t":88.2,"v":55,"d":"down"},{"t":88.45,"v":78,"d":"down"},{"t":88.75,"v":20,"d":"up"},{"t":88.97,"v":16,"d":"down"},{"t":89.4,"v":13,"d":"up"},{"t":90.2,"v":43,"d":"up"},{"t":91.03,"v":14,"d":"up"},{"t":92.8,"v":120,"d":"up"},{"t":93.75,"v":14,"d":"up"},{"t":94.15,"v":26,"d":"up"},{"t":95.15,"v":93,"d":"down"},{"t":95.3,"v":32,"d":"up"},{"t":95.53,"v":12,"d":"up"},{"t":97.75,"v":10,"d":"down"},{"t":98.63,"v":19,"d":"down"},{"t":98.98,"v":24,"d":"up"},{"t":99.06,"v":23,"d":"up"},{"t":99.67,"v":21,"d":"up"},{"t":100.55,"v":41,"d":"up"},{"t":103.0,"v":43,"d":"down"},{"t":103.37,"v":12,"d":"down"},{"t":103.58,"v":31,"d":"down"},{"t":103.73,"v":48,"d":"up"},{"t":105.2,"v":22,"d":"up"},{"t":105.26,"v":16,"d":"down"},{"t":106.1,"v":52,"d":"down"},{"t":106.62,"v":40,"d":"down"}
],
"frame":[{"t":-0.07,"t2":111.7,"p":38627,"p2":36666}],
"lastPrice":[{"t":0,"t2":107.9,"p":37078}],
"priceTag":[{"t":107.9,"t2":111.14,"p":37097,"p2":37021}],
"volumeTag":[{"t":107.9,"t2":109.3,"p":36768,"p2":36732}],
"legendText":[
{"t":0.52,"p":38590,"text":"Bitcoin / U.S. Dollar, 5, BITSTAMP","kind":"label"},
{"t":14.4,"p":38590,"text":"O","kind":"label"},
{"t":14.95,"p":38590,"text":"37095","kind":"value"},
{"t":17.85,"p":38590,"text":"H","kind":"label"},
{"t":18.4,"p":38590,"text":"37101","kind":"value"},
{"t":21.25,"p":38590,"text":"L","kind":"label"},
{"t":21.8,"p":38590,"text":"37071","kind":"value"},
{"t":24.55,"p":38590,"text":"C","kind":"label"},
{"t":25.1,"p":38590,"text":"37078","kind":"value"},
{"t":28.0,"p":38590,"text":"−11 (−0.03%)","kind":"value"},
{"t":0.52,"p":38548,"text":"Vol · BTC","kind":"label"},
{"t":4.65,"p":38548,"text":"1","kind":"value"}
],
"footerText":[{"t":1.62,"p":36620,"text":"TradingView"}],
"tagText":[
{"t":109.5,"p":37075,"text":"37078","part":"price"},
{"t":109.5,"p":37043,"text":"02:40","part":"countdown"},
{"t":108.6,"p":36750,"text":"1","part":"price"}
],
"logo":[{"t":0.65,"p":36622}],
"icon":[{"t":106.94,"p":36761}],
"iconDot":[{"t":107.47,"p":36780}]
},
"encoding":{"x":{"field":"t","type":"quantitative","title":null,"scale":{"domain":[0,107.9],"nice":false,"zero":false,"padding":0},"axis":{"values":[0,6,12,18,24,30,36,42,48,54,60,66,72,78,84,90,96,102],"labelExpr":"datum.value==0?'3':datum.value%24==0?''+(23+datum.value/24):(datum.value%24<10?'0':'')+(datum.value%24)+':00'","labelFontWeight":{"condition":{"test":"datum.value==96","value":"bold"},"value":"normal"},"grid":true,"gridColor":"#f0f3fa","gridWidth":1,"domain":false,"ticks":false,"labelFont":"Noto Sans","labelFontSize":11.2,"labelColor":"#131722","labelPadding":7,"labelOverlap":false,"labelBound":false,"labelFlush":false}}},
"layer":[
{"layer":[
{"data":{"name":"candles"},"mark":{"type":"bar","orient":"vertical","size":2.6,"opacity":0.5},"encoding":{"y":{"field":"v","type":"quantitative","scale":{"domain":[0,779],"nice":false},"axis":null},"color":{"condition":{"test":"datum.c>=datum.o","value":"#26a69a"},"value":"#ef5350"}}},
{"data":{"name":"volumeSpikes"},"mark":{"type":"bar","orient":"vertical","size":1.2,"opacity":0.5},"encoding":{"y":{"field":"v","type":"quantitative"},"color":{"condition":{"test":"datum.d=='up'","value":"#26a69a"},"value":"#ef5350"}}}
]},
{"layer":[
{"data":{"name":"frame"},"mark":{"type":"rect","fill":null,"stroke":"#eff0f5","strokeWidth":2,"clip":false},"encoding":{"x2":{"field":"t2"},"y":{"field":"p","type":"quantitative"},"y2":{"field":"p2"}}},
{"data":{"name":"candles"},"mark":{"type":"rule","strokeWidth":1},"encoding":{"y":{"field":"l","type":"quantitative","scale":{"domain":[36732,38627],"nice":false,"zero":false},"axis":{"orient":"right","values":[36800,36900,37000,37100,37200,37300,37400,37500,37600,37700,37800,37900,38000,38100,38200,38300,38400,38500,38600],"format":"d","title":null,"grid":true,"gridColor":"#f0f3fa","gridWidth":1,"domain":false,"ticks":false,"labelFont":"Noto Sans","labelFontSize":11.2,"labelColor":"#131722","labelPadding":6,"labelOverlap":false}},"y2":{"field":"h"},"color":{"condition":{"test":"datum.c>=datum.o","value":"#089981"},"value":"#f23645"}}},
{"data":{"name":"candles"},"mark":{"type":"bar","orient":"vertical","size":2},"encoding":{"y":{"field":"o","type":"quantitative"},"y2":{"field":"c"},"color":{"condition":{"test":"datum.c>=datum.o","value":"#089981"},"value":"#f23645"}}},
{"data":{"name":"lastPrice"},"mark":{"type":"rule","stroke":"#f23645","strokeDash":[1.5,2.5],"strokeWidth":1.3,"opacity":1},"encoding":{"x2":{"field":"t2"},"y":{"field":"p","type":"quantitative"}}},
{"data":{"name":"priceTag"},"mark":{"type":"rect","color":"#f23645","clip":false},"encoding":{"x2":{"field":"t2"},"y":{"field":"p","type":"quantitative"},"y2":{"field":"p2"}}},
{"data":{"name":"volumeTag"},"mark":{"type":"rect","color":"#ef5350","clip":false},"encoding":{"x2":{"field":"t2"},"y":{"field":"p","type":"quantitative"},"y2":{"field":"p2"}}},
{"data":{"name":"tagText"},"transform":[{"filter":"datum.part=='price'"}],"mark":{"type":"text","color":"#ffffff","fontWeight":"bold","fontSize":11.2,"font":"Noto Sans","align":"center","baseline":"middle"},"encoding":{"y":{"field":"p","type":"quantitative"},"text":{"field":"text"}}},
{"data":{"name":"tagText"},"transform":[{"filter":"datum.part=='countdown'"}],"mark":{"type":"text","color":"#ffffff","opacity":0.75,"fontSize":11.2,"font":"Noto Sans","align":"center","baseline":"middle"},"encoding":{"y":{"field":"p","type":"quantitative"},"text":{"field":"text"}}},
{"data":{"name":"legendText"},"mark":{"type":"text","fontSize":11.7,"font":"Noto Sans","align":"left","baseline":"middle"},"encoding":{"y":{"field":"p","type":"quantitative"},"text":{"field":"text"},"color":{"field":"kind","type":"nominal","legend":null,"scale":{"domain":["label","value"],"range":["#131722","#f23645"]}}}},
{"data":{"name":"footerText"},"mark":{"type":"text","fontSize":12.4,"font":"Noto Sans","color":"#333842","align":"left","baseline":"middle"},"encoding":{"y":{"field":"p","type":"quantitative"},"text":{"field":"text"}}},
{"data":{"name":"logo"},"mark":{"type":"point","shape":"M-1 -.47H-.22V.47H-.6V-.05H-1ZM-.03 -.47a.2 .2 0 1 1 -.001 0ZM.22 .47L.62 -.47H1L.6 .47Z","size":400,"filled":true,"color":"#131722","opacity":1,"strokeWidth":0},"encoding":{"y":{"field":"p","type":"quantitative"}}},
{"data":{"name":"icon"},"mark":{"type":"point","shape":"circle","size":330,"fill":"#ffffff","fillOpacity":0.75,"stroke":"#9c27b0","strokeWidth":1.5,"opacity":1},"encoding":{"y":{"field":"p","type":"quantitative"}}},
{"data":{"name":"icon"},"mark":{"type":"point","shape":"M.25 -1L-.6 .15H-.05L-.25 1L.6 -.2H.05Z","size":120,"filled":true,"color":"#9c27b0","opacity":1,"strokeWidth":0},"encoding":{"y":{"field":"p","type":"quantitative"}}},
{"data":{"name":"iconDot"},"mark":{"type":"point","shape":"circle","size":36,"filled":true,"color":"#f23645","opacity":1,"strokeWidth":0},"encoding":{"y":{"field":"p","type":"quantitative"}}}
]}
],
"resolve":{"scale":{"y":"independent"}}
}
